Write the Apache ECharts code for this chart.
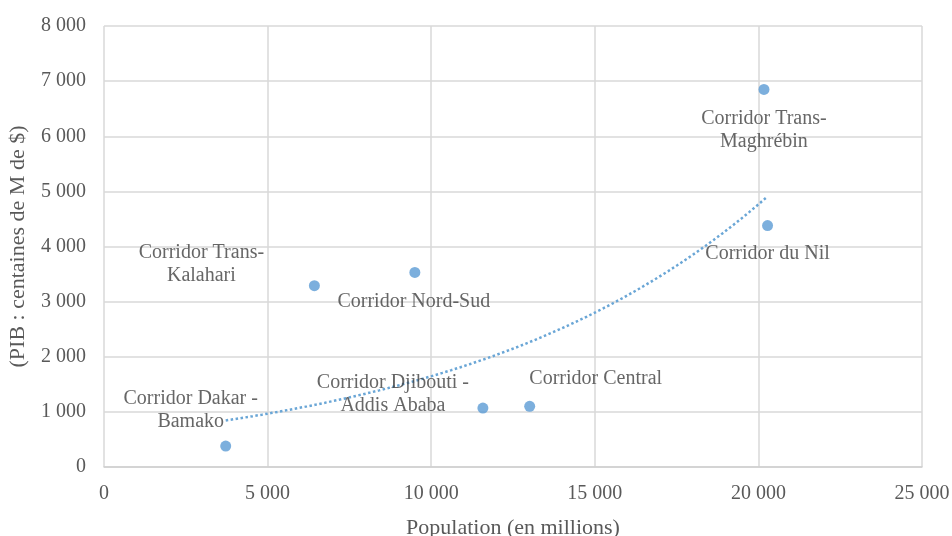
<!DOCTYPE html>
<html>
<head>
<meta charset="utf-8">
<script src="https://cdn.jsdelivr.net/npm/echarts@6/dist/echarts.min.js"></script>
<style>
  html, body { margin: 0; padding: 0; background: #fff; }
  #chart { width: 952px; height: 536px; }
</style>
</head>
<body>
<div id="chart"></div>
<script>
// Corridors: population (millions) vs GDP (hundreds of M$)
const corridorNames = [
  'Corridor Dakar -\nBamako',
  'Corridor Trans-\nKalahari',
  'Corridor Nord-Sud',
  'Corridor Djibouti -\nAddis Ababa',
  'Corridor Central',
  'Corridor Trans-\nMaghrébin',
  'Corridor du Nil'
];
const population = [3720, 6430, 9500, 11580, 13010, 20170, 20280];
const gdp = [380, 3290, 3530, 1070, 1100, 6850, 4380];

const xTicks = [0, 5000, 10000, 15000, 20000, 25000];
const yTicks = [0, 1000, 2000, 3000, 4000, 5000, 6000, 7000, 8000];

// label placement relative to each marker (px)
const labelOffsets = [[-35, -36], [-113, -21], [-1, 29], [-90, -14], [66, -28], [0, 41], [0, 28]];

const fmt = v => String(v).replace(/\B(?=(\d{3})+(?!\d))/g, ' ');

// Exponential trendline: least-squares fit of ln(y) on x
function expFit(xs, ys) {
  const n = xs.length;
  const ly = ys.map(Math.log);
  const mx = xs.reduce((a, b) => a + b, 0) / n;
  const my = ly.reduce((a, b) => a + b, 0) / n;
  let sxy = 0, sxx = 0;
  for (let i = 0; i < n; i++) {
    sxy += (xs[i] - mx) * (ly[i] - my);
    sxx += (xs[i] - mx) * (xs[i] - mx);
  }
  const b = sxy / sxx;
  const a = Math.exp(my - b * mx);
  return x => a * Math.exp(b * x);
}
const trend = expFit(population, gdp);
const xMin = Math.min(...population), xMax = Math.max(...population);
const trendData = [];
for (let i = 0; i <= 60; i++) {
  const x = xMin + (xMax - xMin) * i / 60;
  trendData.push([x, trend(x)]);
}

const serif = '"Liberation Serif", "Times New Roman", serif';

const chart = echarts.init(document.getElementById('chart'));
chart.setOption({
  animation: false,
  textStyle: { fontFamily: serif },
  grid: { left: 104, right: 30, top: 26, bottom: 69, containLabel: false, outerBoundsMode: 'none' },
  xAxis: {
    type: 'value',
    min: xTicks[0], max: xTicks[xTicks.length - 1], interval: xTicks[1] - xTicks[0],
    name: 'Population (en millions)',
    nameLocation: 'middle', nameGap: 50,
    nameTextStyle: { fontFamily: serif, fontSize: 22, color: '#595959' },
    axisLine: { show: true, lineStyle: { color: '#d0d0d0', width: 1.5 } },
    axisTick: { show: false },
    axisLabel: { formatter: fmt, fontFamily: serif, fontSize: 20, color: '#595959', margin: 17 },
    splitLine: { show: true, lineStyle: { color: '#d9d9d9', width: 1.5 } }
  },
  yAxis: {
    type: 'value',
    min: yTicks[0], max: yTicks[yTicks.length - 1], interval: yTicks[1] - yTicks[0],
    name: '(PIB : centaines de M de $)',
    nameLocation: 'middle', nameGap: 75, nameRotate: 90,
    nameTextStyle: { fontFamily: serif, fontSize: 22, color: '#595959' },
    axisLine: { show: false },
    axisTick: { show: false },
    axisLabel: { formatter: fmt, fontFamily: serif, fontSize: 20, color: '#595959', margin: 18 },
    splitLine: { show: true, lineStyle: { color: '#d9d9d9', width: 1.5 } }
  },
  series: [
    {
      type: 'line',
      data: trendData,
      showSymbol: false,
      smooth: false,
      lineStyle: { type: 'dotted', color: '#6aa6d6', width: 2.5 },
      silent: true,
      z: 2
    },
    {
      type: 'scatter',
      symbolSize: 11,
      itemStyle: { color: '#5b9bd5' },
      data: population.map((x, i) => ({
        value: [x, gdp[i]],
        name: corridorNames[i],
        label: {
          show: true,
          position: 'inside',
          offset: labelOffsets[i],
          formatter: corridorNames[i],
          fontFamily: serif,
          fontSize: 20,
          lineHeight: 23,
          color: '#404040',
          align: 'center',
          verticalAlign: 'middle'
        }
      })),
      z: 3
    }
  ]
});
</script>
</body>
</html>
